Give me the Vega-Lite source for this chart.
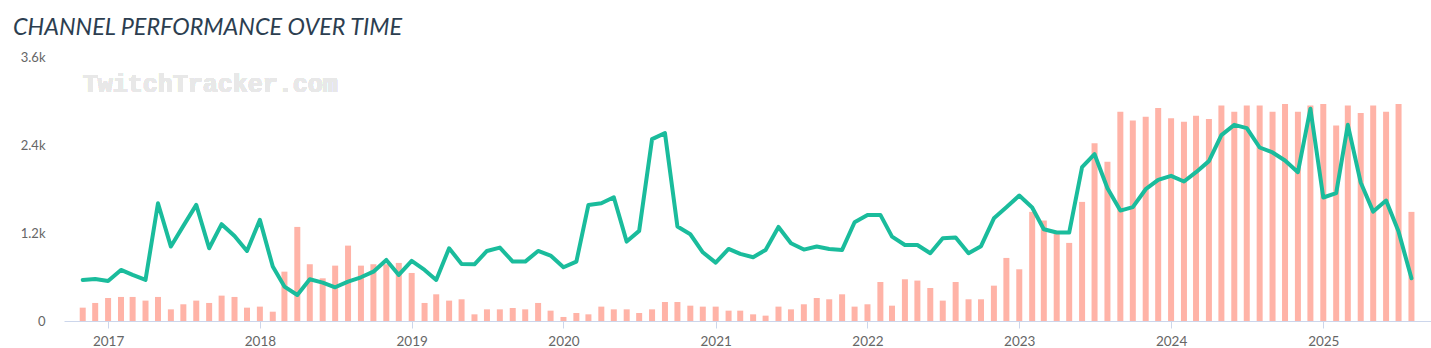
{
  "$schema": "https://vega.github.io/schema/vega-lite/v6.json",
  "autosize": "none",
  "width": 1367,
  "height": 264,
  "padding": {"left": 64, "top": 57, "right": 0, "bottom": 27},
  "background": "#ffffff",
  "title": {
    "text": "CHANNEL PERFORMANCE OVER TIME",
    "anchor": "start",
    "frame": "group",
    "dx": -51,
    "offset": -7,
    "baseline": "alphabetic",
    "font": "Lato",
    "fontStyle": "italic",
    "fontWeight": "normal",
    "fontSize": 23.4,
    "color": "#2c3e50"
  },
  "config": {
    "view": {"stroke": null},
    "font": "Lato"
  },
  "data": {
    "values": [
      {"date": "2016-11-01", "bar": 182, "line": 560},
      {"date": "2016-12-01", "bar": 246, "line": 573},
      {"date": "2017-01-01", "bar": 314, "line": 546},
      {"date": "2017-02-01", "bar": 328, "line": 696},
      {"date": "2017-03-01", "bar": 328, "line": 628},
      {"date": "2017-04-01", "bar": 278, "line": 560},
      {"date": "2017-05-01", "bar": 328, "line": 1606},
      {"date": "2017-06-01", "bar": 159, "line": 1015},
      {"date": "2017-07-01", "bar": 228, "line": 1297},
      {"date": "2017-08-01", "bar": 278, "line": 1583},
      {"date": "2017-09-01", "bar": 246, "line": 992},
      {"date": "2017-10-01", "bar": 346, "line": 1320},
      {"date": "2017-11-01", "bar": 328, "line": 1160},
      {"date": "2017-12-01", "bar": 182, "line": 955},
      {"date": "2018-01-01", "bar": 196, "line": 1379},
      {"date": "2018-02-01", "bar": 127, "line": 742},
      {"date": "2018-03-01", "bar": 673, "line": 469},
      {"date": "2018-04-01", "bar": 1283, "line": 355},
      {"date": "2018-05-01", "bar": 774, "line": 569},
      {"date": "2018-06-01", "bar": 582, "line": 523},
      {"date": "2018-07-01", "bar": 755, "line": 460},
      {"date": "2018-08-01", "bar": 1028, "line": 537},
      {"date": "2018-09-01", "bar": 755, "line": 596},
      {"date": "2018-10-01", "bar": 774, "line": 673},
      {"date": "2018-11-01", "bar": 774, "line": 833},
      {"date": "2018-12-01", "bar": 792, "line": 628},
      {"date": "2019-01-01", "bar": 655, "line": 819},
      {"date": "2019-02-01", "bar": 246, "line": 696},
      {"date": "2019-03-01", "bar": 364, "line": 560},
      {"date": "2019-04-01", "bar": 278, "line": 992},
      {"date": "2019-05-01", "bar": 296, "line": 778},
      {"date": "2019-06-01", "bar": 91, "line": 773},
      {"date": "2019-07-01", "bar": 159, "line": 955},
      {"date": "2019-08-01", "bar": 159, "line": 1001},
      {"date": "2019-09-01", "bar": 177, "line": 810},
      {"date": "2019-10-01", "bar": 159, "line": 810},
      {"date": "2019-11-01", "bar": 246, "line": 955},
      {"date": "2019-12-01", "bar": 141, "line": 892},
      {"date": "2020-01-01", "bar": 55, "line": 733},
      {"date": "2020-02-01", "bar": 109, "line": 810},
      {"date": "2020-03-01", "bar": 91, "line": 1583},
      {"date": "2020-04-01", "bar": 196, "line": 1606},
      {"date": "2020-05-01", "bar": 159, "line": 1688},
      {"date": "2020-06-01", "bar": 159, "line": 1083},
      {"date": "2020-07-01", "bar": 109, "line": 1229},
      {"date": "2020-08-01", "bar": 159, "line": 2480},
      {"date": "2020-09-01", "bar": 259, "line": 2562},
      {"date": "2020-10-01", "bar": 259, "line": 1288},
      {"date": "2020-11-01", "bar": 209, "line": 1183},
      {"date": "2020-12-01", "bar": 196, "line": 937},
      {"date": "2021-01-01", "bar": 196, "line": 796},
      {"date": "2021-02-01", "bar": 141, "line": 983},
      {"date": "2021-03-01", "bar": 141, "line": 915},
      {"date": "2021-04-01", "bar": 91, "line": 869},
      {"date": "2021-05-01", "bar": 73, "line": 969},
      {"date": "2021-06-01", "bar": 196, "line": 1283},
      {"date": "2021-07-01", "bar": 159, "line": 1060},
      {"date": "2021-08-01", "bar": 228, "line": 974},
      {"date": "2021-09-01", "bar": 314, "line": 1015},
      {"date": "2021-10-01", "bar": 296, "line": 983},
      {"date": "2021-11-01", "bar": 364, "line": 969},
      {"date": "2021-12-01", "bar": 196, "line": 1347},
      {"date": "2022-01-01", "bar": 228, "line": 1447},
      {"date": "2022-02-01", "bar": 532, "line": 1447},
      {"date": "2022-03-01", "bar": 209, "line": 1151},
      {"date": "2022-04-01", "bar": 569, "line": 1037},
      {"date": "2022-05-01", "bar": 551, "line": 1037},
      {"date": "2022-06-01", "bar": 450, "line": 924},
      {"date": "2022-07-01", "bar": 278, "line": 1128},
      {"date": "2022-08-01", "bar": 532, "line": 1138},
      {"date": "2022-09-01", "bar": 296, "line": 924},
      {"date": "2022-10-01", "bar": 296, "line": 1020},
      {"date": "2022-11-01", "bar": 482, "line": 1400},
      {"date": "2022-12-01", "bar": 860, "line": 1552},
      {"date": "2023-01-01", "bar": 705, "line": 1711},
      {"date": "2023-02-01", "bar": 1488, "line": 1547},
      {"date": "2023-03-01", "bar": 1370, "line": 1251},
      {"date": "2023-04-01", "bar": 1197, "line": 1206},
      {"date": "2023-05-01", "bar": 1065, "line": 1206},
      {"date": "2023-06-01", "bar": 1624, "line": 2098},
      {"date": "2023-07-01", "bar": 2425, "line": 2275},
      {"date": "2023-08-01", "bar": 2170, "line": 1811},
      {"date": "2023-09-01", "bar": 2853, "line": 1506},
      {"date": "2023-10-01", "bar": 2735, "line": 1552},
      {"date": "2023-11-01", "bar": 2785, "line": 1797},
      {"date": "2023-12-01", "bar": 2903, "line": 1925},
      {"date": "2024-01-01", "bar": 2766, "line": 1979},
      {"date": "2024-02-01", "bar": 2716, "line": 1902},
      {"date": "2024-03-01", "bar": 2798, "line": 2029},
      {"date": "2024-04-01", "bar": 2753, "line": 2180},
      {"date": "2024-05-01", "bar": 2939, "line": 2535},
      {"date": "2024-06-01", "bar": 2853, "line": 2675},
      {"date": "2024-07-01", "bar": 2939, "line": 2630},
      {"date": "2024-08-01", "bar": 2939, "line": 2366},
      {"date": "2024-09-01", "bar": 2853, "line": 2298},
      {"date": "2024-10-01", "bar": 2958, "line": 2189},
      {"date": "2024-11-01", "bar": 2853, "line": 2029},
      {"date": "2024-12-01", "bar": 2939, "line": 2894},
      {"date": "2025-01-01", "bar": 2958, "line": 1684},
      {"date": "2025-02-01", "bar": 2666, "line": 1743},
      {"date": "2025-03-01", "bar": 2939, "line": 2675},
      {"date": "2025-04-01", "bar": 2835, "line": 1888},
      {"date": "2025-05-01", "bar": 2939, "line": 1492},
      {"date": "2025-06-01", "bar": 2853, "line": 1643},
      {"date": "2025-07-01", "bar": 2958, "line": 1219},
      {"date": "2025-08-01", "bar": 1488, "line": 582}
    ]
  },
  "encoding": {
    "x": {
      "field": "date",
      "type": "temporal",
      "scale": {
        "domain": [
          {"year": 2016, "month": 9, "date": 17},
          {"year": 2025, "month": 9, "date": 17}
        ],
        "nice": false,
        "padding": 0
      },
      "axis": {
        "title": null,
        "grid": false,
        "format": "%Y",
        "tickCount": {"interval": "year", "step": 1},
        "domainColor": "#ccd6eb",
        "domainWidth": 1,
        "tickColor": "#ccd6eb",
        "tickSize": 7,
        "labelPadding": 6,
        "labelFont": "Lato",
        "labelFontSize": 13.5,
        "labelColor": "#666666",
        "labelFlush": false
      }
    }
  },
  "layer": [
    {
      "mark": {
        "type": "text",
        "font": "Liberation Mono",
        "fontWeight": "bold",
        "fontSize": 25,
        "color": "#e8e8e8",
        "align": "left",
        "baseline": "alphabetic"
      },
      "encoding": {
        "x": {"datum": {"year": 2016, "month": 11, "date": 1}, "type": "temporal"},
        "y": {"datum": 3116, "type": "quantitative"},
        "text": {"value": "TwitchTracker.com"}
      }
    },
    {
      "mark": {"type": "bar", "size": 6, "color": "#ffb3a7"},
      "encoding": {
        "y": {
          "field": "bar",
          "type": "quantitative",
          "scale": {"domain": [0, 3600], "nice": false},
          "axis": {
            "title": null,
            "values": [0, 1200, 2400, 3600],
            "labelExpr": "datum.value == 0 ? '0' : format(datum.value / 1000, '.1f') + 'k'",
            "domain": false,
            "ticks": false,
            "labelPadding": 19,
            "labelFont": "Lato",
            "labelFontSize": 13,
            "labelColor": "#666666",
            "gridColor": "#e6e6e6",
            "gridDash": [4, 3],
            "gridWidth": 1
          }
        }
      }
    },
    {
      "mark": {"type": "line", "color": "#1abc9c", "strokeWidth": 4, "strokeJoin": "round", "strokeCap": "round"},
      "encoding": {
        "y": {"field": "line", "type": "quantitative"}
      }
    }
  ]
}
